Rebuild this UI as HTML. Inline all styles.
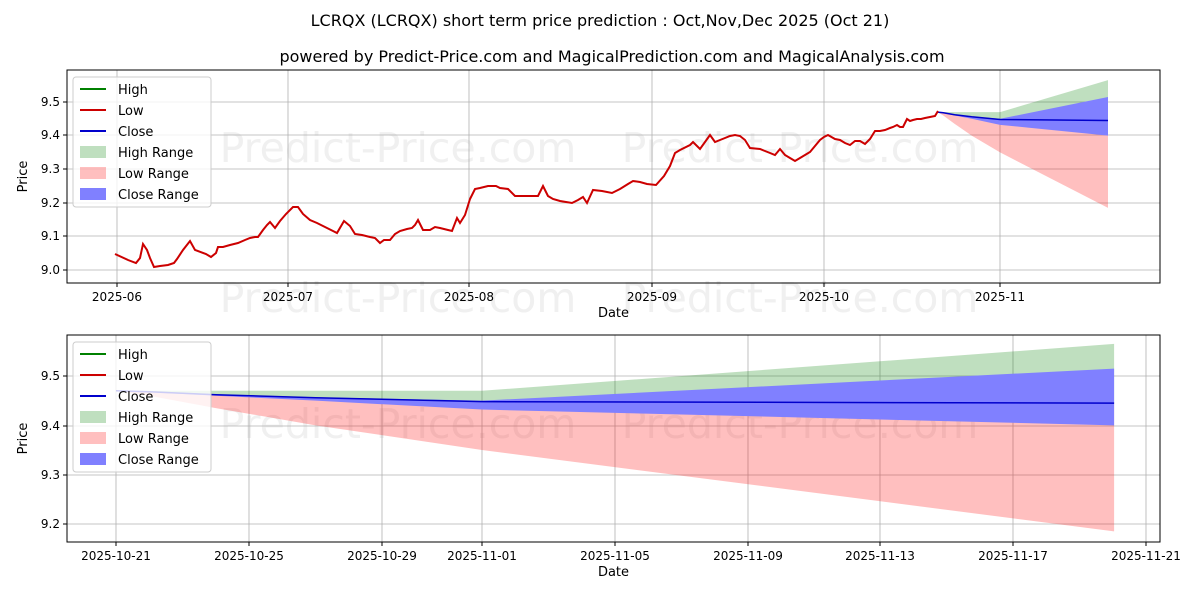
<!DOCTYPE html>
<html><head><meta charset="utf-8"><style>
body{margin:0;background:#fff;font-family:"DejaVu Sans","Liberation Sans",sans-serif}
text{font-family:"DejaVu Sans","Liberation Sans",sans-serif;fill:#000}
</style></head><body>
<svg id="s" width="1200" height="600" xmlns="http://www.w3.org/2000/svg">
<rect width="1200" height="600" fill="#fff"/>
<text x="600" y="26" font-size="16" text-anchor="middle">LCRQX (LCRQX) short term price prediction : Oct,Nov,Dec 2025 (Oct 21)</text>
<text x="612" y="62" font-size="16" text-anchor="middle">powered by Predict-Price.com and MagicalPrediction.com and MagicalAnalysis.com</text>
<g id="g"></g>
</svg>
<script>
const NS="http://www.w3.org/2000/svg",g=document.getElementById('g');
function el(t,a,txt){const e=document.createElementNS(NS,t);for(const k in a)e.setAttribute(k,a[k]);if(txt!==undefined)e.textContent=txt;g.appendChild(e);return e;}
const days=[0,1,3,6,11,30];
const close=[9.47,9.468,9.462,9.456,9.448,9.445];
const hiU=[9.47,9.47,9.47,9.47,9.47,9.565];
const loL=[9.47,9.46,9.435,9.40,9.35,9.185];
const cU=[9.47,9.469,9.463,9.457,9.45,9.515];
const cL=[9.47,9.467,9.46,9.45,9.432,9.40];
function poly(fx,fy,u,l,fill){let p=[];for(let i=0;i<days.length;i++)p.push(fx(days[i])+','+fy(u[i]));for(let i=days.length-1;i>=0;i--)p.push(fx(days[i])+','+fy(l[i]));el('polygon',{points:p.join(' '),fill:fill,stroke:'none'});}
function forecast(fx,fy){
 poly(fx,fy,hiU,close,'rgba(0,128,0,0.25)');
 poly(fx,fy,close,loL,'rgba(255,0,0,0.25)');
 poly(fx,fy,cU,cL,'rgb(128,128,255)');
 el('polyline',{points:days.map((d,i)=>fx(d)+','+fy(close[i])).join(' '),fill:'none',stroke:'#0000cc','stroke-width':1.5});
}
function axes(x0,y0,x1,y1,xt,yt){
 for(const [x,l] of xt){el('line',{x1:x,y1:y0,x2:x,y2:y1,stroke:'#b0b0b0','stroke-width':0.8});el('line',{x1:x,y1:y1,x2:x,y2:y1+4,stroke:'#000'});el('text',{x:x,y:y1+18,'font-size':12,'text-anchor':'middle'},l);}
 for(const [y,l] of yt){el('line',{x1:x0,y1:y,x2:x1,y2:y,stroke:'#b0b0b0','stroke-width':0.8});el('line',{x1:x0-4,y1:y,x2:x0,y2:y,stroke:'#000'});el('text',{x:x0-7,y:y+4,'font-size':12,'text-anchor':'end'},l);}
 el('text',{x:(x0+x1)/2,y:y1+34,'font-size':13,'text-anchor':'middle'},'Date');
 el('text',{x:0,y:0,'font-size':13,'text-anchor':'middle',transform:`translate(27,${(y0+y1)/2}) rotate(-90)`},'Price');
}
function wm(y){[[398,y],[800,y]].forEach(([x,yy])=>el('text',{x:x,y:yy,'font-size':41,'text-anchor':'middle',style:'fill:#f0f0f0'},'Predict-Price.com'));}
function legend(x,y){
 el('rect',{x:x,y:y,width:138,height:130,fill:'#fff','fill-opacity':0.8,stroke:'#ccc',rx:3});
 const it=[['line','green','High'],['line','#cc0000','Low'],['line','#0000cc','Close'],['box','rgba(0,128,0,0.25)','High Range'],['box','rgba(255,0,0,0.25)','Low Range'],['box','rgb(128,128,255)','Close Range']];
 it.forEach((t,i)=>{const yy=y+12+i*21;
  if(t[0]=='line')el('line',{x1:x+7,y1:yy,x2:x+33,y2:yy,stroke:t[1],'stroke-width':2});
  else el('rect',{x:x+7,y:yy-6,width:26,height:12,fill:t[1]});
  el('text',{x:x+45,y:yy+5,'font-size':13},t[2]);});
}
// TOP
const tY=v=>270-(v-9.0)*336, tX=d=>937.6+d*5.68;
wm(162);wm(312);
axes(67,70,1160,283,[[117,'2025-06'],[288,'2025-07'],[469,'2025-08'],[652,'2025-09'],[824,'2025-10'],[1000,'2025-11']],[[270,'9.0'],[236,'9.1'],[203,'9.2'],[169,'9.3'],[135,'9.4'],[102,'9.5']]);
forecast(tX,tY);
el('polyline',{points:"115,254 128,260 136,263 140,258 143,244 147,250 150,258 154,267 160,266 168,265 174,263 177,259 183,250 190,241 195,250 206,254 211,257 216,253 218,247 223,247 230,245 238,243 245,240 250,238 255,237 258,237 263,230 267,225 270,222 275,228 280,221 286,214 293,207 298,207 303,214 310,220 317,223 325,227 333,231 337,233 344,221 350,226 355,234 362,235 370,237 375,238 380,243 384,240 390,240 395,234 400,231 407,229 412,228 415,225 418,220 423,230 430,230 435,227 440,228 448,230 452,231 457,218 460,223 465,215 470,199 475,189 480,188 488,186 496,186 500,188 508,189 515,196 522,196 530,196 538,196 543,186 548,196 553,199 560,201 566,202 572,203 578,200 583,197 587,203 593,190 602,191 612,193 620,189 628,184 633,181 640,182 647,184 656,185 664,176 670,166 675,153 680,150 690,145 693,142 697,146 700,149 705,142 710,135 715,142 720,140 725,138 730,136 735,135 740,136 745,140 750,148 760,149 765,151 770,153 775,155 780,149 785,155 790,158 795,161 800,158 805,155 810,152 815,146 820,140 824,137 828,135 835,139 840,140 845,143 850,145 855,141 860,141 865,144 870,139 875,131 880,131 885,130 890,128 893,127 897,125 900,127 903,127 907,119 910,121 913,120 917,119 921,119 925,118 930,117 935,116 938,111",fill:'none',stroke:'#cc0000','stroke-width':2});
el('rect',{x:67,y:70,width:1093,height:213,fill:'none',stroke:'#000','stroke-width':1});
legend(73,77);
// BOTTOM
const bY=v=>376-(v-9.5)*493.3, bX=d=>116+d*33.27;
wm(438);
axes(67,335,1160,542,[[116,'2025-10-21'],[249,'2025-10-25'],[382,'2025-10-29'],[482,'2025-11-01'],[615,'2025-11-05'],[748,'2025-11-09'],[880,'2025-11-13'],[1013,'2025-11-17'],[1146,'2025-11-21']],[[376,'9.5'],[426,'9.4'],[475,'9.3'],[524,'9.2']]);
forecast(bX,bY);
el('rect',{x:67,y:335,width:1093,height:207,fill:'none',stroke:'#000','stroke-width':1});
legend(73,342);
</script>
</body></html>
